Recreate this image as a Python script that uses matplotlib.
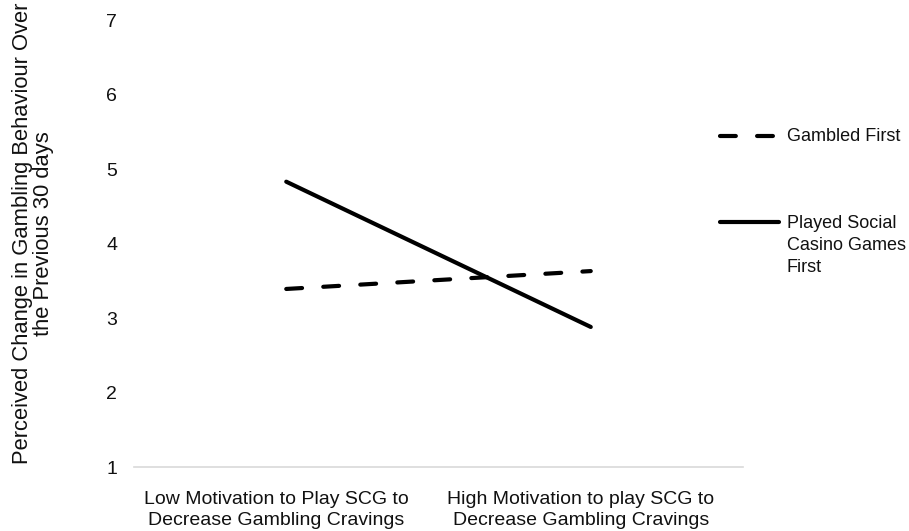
import matplotlib
matplotlib.use("Agg")
import matplotlib.pyplot as plt
from matplotlib.lines import Line2D
from matplotlib.transforms import ScaledTranslation

plt.rcParams['font.family'] = ['Liberation Sans', 'DejaVu Sans']

categories = ["Low Motivation to Play SCG to\nDecrease Gambling Cravings",
              "High Motivation to play SCG to\nDecrease Gambling Cravings"]
gambled_first = [3.39, 3.63]
scg_first = [4.83, 2.88]
yticks = [1, 2, 3, 4, 5, 6, 7]

fig = plt.figure(figsize=(9.09, 5.31), dpi=100)
ax = fig.add_axes([0.1474, 0.1205, 0.67, 0.8418])

x = list(range(len(categories)))
ax.plot(x, gambled_first, color="black", lw=3, dashes=(3.8, 5.1),
        dash_capstyle="round", solid_capstyle="round")
ax.plot(x, scg_first, color="black", lw=3, solid_capstyle="round")

ax.set_xlim(-0.5, 1.5)
ax.set_ylim(1, 7)
ax.set_yticks(yticks)
ax.set_xticks(x)
ax.set_xticklabels(categories, fontsize=14, linespacing=1.32, color="#111111")
ax.tick_params(axis="y", length=0, pad=12, labelsize=14, labelcolor="#111111")
ax.tick_params(axis="x", length=0, pad=17)
# category labels sit a little left of the points in the original
shift = ScaledTranslation(-0.10, 0, fig.dpi_scale_trans)
for lbl in ax.get_xticklabels():
    lbl.set_transform(lbl.get_transform() + shift)
for s in ["top", "right", "left"]:
    ax.spines[s].set_visible(False)
ax.spines["bottom"].set_color("#d9d9d9")
ax.spines["bottom"].set_linewidth(1.2)

ax.set_ylabel("Perceived Change in Gambling Behaviour Over\nthe Previous 30 days",
              fontsize=15.8, linespacing=1.0, va="center", color="#111111")
ax.yaxis.set_label_coords(-0.166, 0.522)

# legend drawn by hand so the solid line sits at the first text line
ax.add_line(Line2D([0.962, 1.049], [0.740, 0.740], transform=ax.transAxes,
                   color="black", lw=3, dashes=(3.8, 5.1), dash_capstyle="round",
                   clip_on=False))
ax.text(1.072, 0.740, "Gambled First", transform=ax.transAxes,
        fontsize=13, va="center", ha="left", color="#111111")
ax.add_line(Line2D([0.962, 1.059], [0.548, 0.548], transform=ax.transAxes,
                   color="black", lw=3, solid_capstyle="round", clip_on=False))
ax.text(1.072, 0.548 + 0.015, "Played Social\nCasino Games\nFirst", transform=ax.transAxes,
        fontsize=13, va="top", ha="left", linespacing=1.37, color="#111111")

fig.savefig("out.png", dpi=100)
